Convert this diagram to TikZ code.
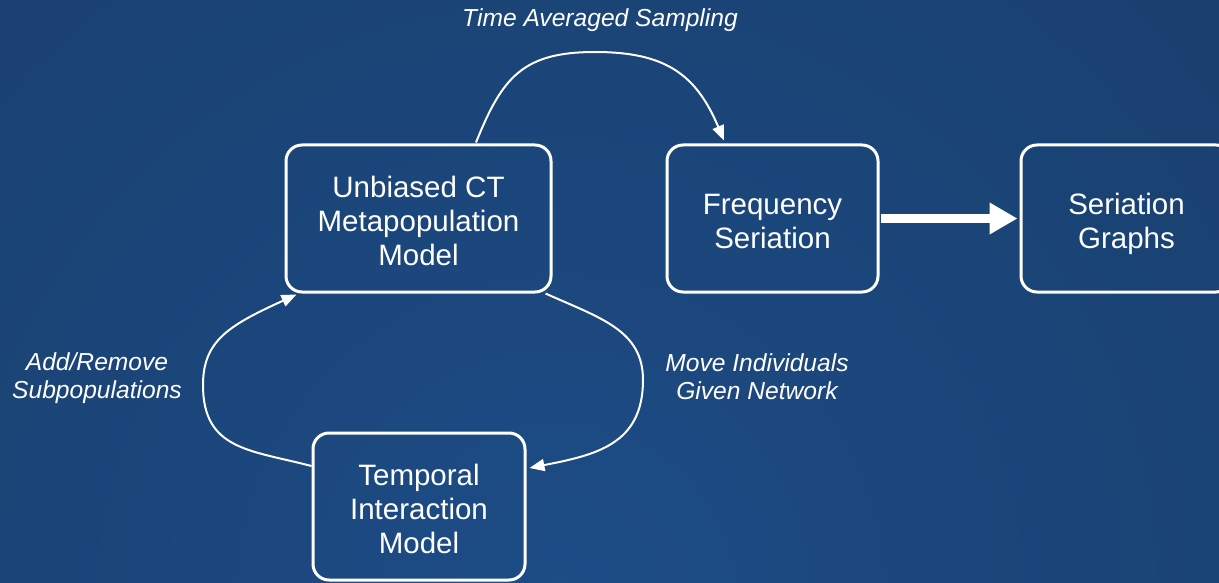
\documentclass[tikz,border=0pt]{standalone}
\usepackage{fontspec}
\setmainfont{Liberation Sans}
\usetikzlibrary{arrows.meta}
\definecolor{bgIn}{HTML}{1D4C86}
\definecolor{bgOut}{HTML}{17375F}
\newcommand\topstrut{\rule{0pt}{35pt}}
\newcommand\botstrut{\rule[-10pt]{0pt}{10pt}}
\tikzset{
  box/.style={draw=white, line width=3pt, rounded corners=16pt, text=white,
    align=center, inner sep=0pt, minimum height=147pt,
    font=\fontsize{29.5}{34}\selectfont},
  lbl/.style={text=white, align=center, inner sep=0pt,
    font=\fontsize{24.6}{28}\selectfont\itshape},
  conn/.style={draw=white, line width=2pt, -{Triangle[length=15pt,width=12pt]}},
  bigconn/.style={draw=white, line width=9pt, -{Triangle[length=28pt,width=30pt]}}
}
\begin{document}
\begin{tikzpicture}[x=1pt,y=-1pt]
\useasboundingbox (0,0) rectangle (1219,583);
\clip (0,0) rectangle (1219,583);
\shade[inner color=bgIn, outer color=bgOut] (560,600) circle (1500pt);

\node[box, minimum width=265pt] (ct) at (418.5,218.5) {\topstrut Unbiased CT\\Metapopulation\\Model\botstrut};
\node[box, minimum width=211pt] (freq) at (772.5,218.5) {\topstrut Frequency\\Seriation\botstrut};
\node[box, minimum width=211pt] (graphs) at (1126.5,218.5) {\topstrut Seriation\\Graphs\botstrut};
\node[box, minimum width=212pt] (temporal) at (419,506.5) {\topstrut Temporal\\Interaction\\Model\botstrut};

\node[lbl] (tas) at (600,20) {Time Averaged Sampling};
\node[lbl] (arl) at (97,378) {Add/Remove\\Subpopulations};
\node[lbl] (mig) at (757,376.5) {Move Individuals\\Given Network};

\draw[conn] ([xshift=57.5pt,yshift=1pt]ct.north) .. controls (502,78) and (522,52) .. (595,52)
  .. controls (665,52) and (696,74) .. ([xshift=-48.5pt,yshift=3pt]freq.north);
\draw[bigconn] ([xshift=1pt]freq.east) -- ([xshift=-2pt]graphs.west);
\draw[conn] ([yshift=40.5pt]temporal.west) .. controls (250,450) and (203,450) .. (203,385)
  .. controls (203,340) and (230,325) .. ([xshift=12pt,yshift=-1pt]ct.south west);
\draw[conn] ([xshift=-7pt]ct.south east) .. controls (600,318) and (643,330) .. (643,380)
  .. controls (643,445) and (595,455) .. ([xshift=3pt,yshift=38.5pt]temporal.east);
\end{tikzpicture}
\end{document}
